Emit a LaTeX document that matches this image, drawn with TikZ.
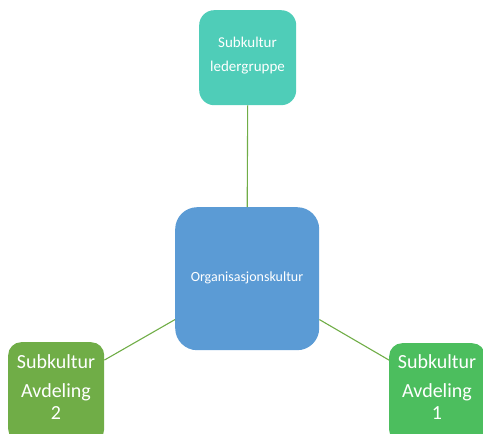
\documentclass[tikz,border=0pt]{standalone}
\usepackage{fontspec}
\setmainfont{Carlito}
\usetikzlibrary{calc}
\definecolor{tealbox}{HTML}{4FCDB8}
\definecolor{bluebox}{HTML}{5B9BD5}
\definecolor{greenA}{HTML}{70AD47}
\definecolor{greenB}{HTML}{4CBE5E}
\definecolor{linkgreen}{HTML}{70AD47}
\begin{document}
\begin{tikzpicture}[x=1pt,y=-1pt,
  cbox/.style={draw=none, inner sep=0pt, anchor=north west},
  ctext/.style={text=white, inner sep=0pt, align=center},
  link/.style={draw=linkgreen, line width=1.1pt}]
\useasboundingbox (0,0) rectangle (483,434);
\begin{scope}
\clip (0,0) rectangle (483,434);
% boxes
\node[cbox, fill=tealbox, rounded corners=15pt, minimum width=97pt, minimum height=95pt] (led) at (199,10) {};
\node[cbox, fill=bluebox, rounded corners=22pt, minimum width=144pt, minimum height=143pt] (org) at (175,207) {};
\node[cbox, fill=greenA, rounded corners=13pt, minimum width=96pt, minimum height=100pt] (av2) at (8,342) {};
\node[cbox, fill=greenB, rounded corners=13pt, minimum width=96pt, minimum height=100pt] (av1) at (389,343) {};
% texts
\node[ctext, font=\fontsize{15}{24}\selectfont] (ledt) at (247.5,56) {Subkultur\\ledergruppe};
\node[ctext, font=\fontsize{14}{17}\selectfont] (orgt) at (247,278) {Organisasjonskultur};
\node[ctext, font=\fontsize{20}{22}\selectfont] (av2t) at (56,387) {Subkultur\\[7pt]Avdeling\\2};
\node[ctext, font=\fontsize{20}{22}\selectfont] (av1t) at (437,387) {Subkultur\\[7pt]Avdeling\\1};
\end{scope}
% connectors
\draw[link] (led.south) -- (org.north);
\draw[link] ($(av2.north east)!0.18!(av2.south east)$) -- ($(org.west)!0.57!(org.south west)$);
\draw[link] ($(org.east)!0.57!(org.south east)$) -- ($(av1.north west)!0.17!(av1.south west)$);
\end{tikzpicture}
\end{document}
